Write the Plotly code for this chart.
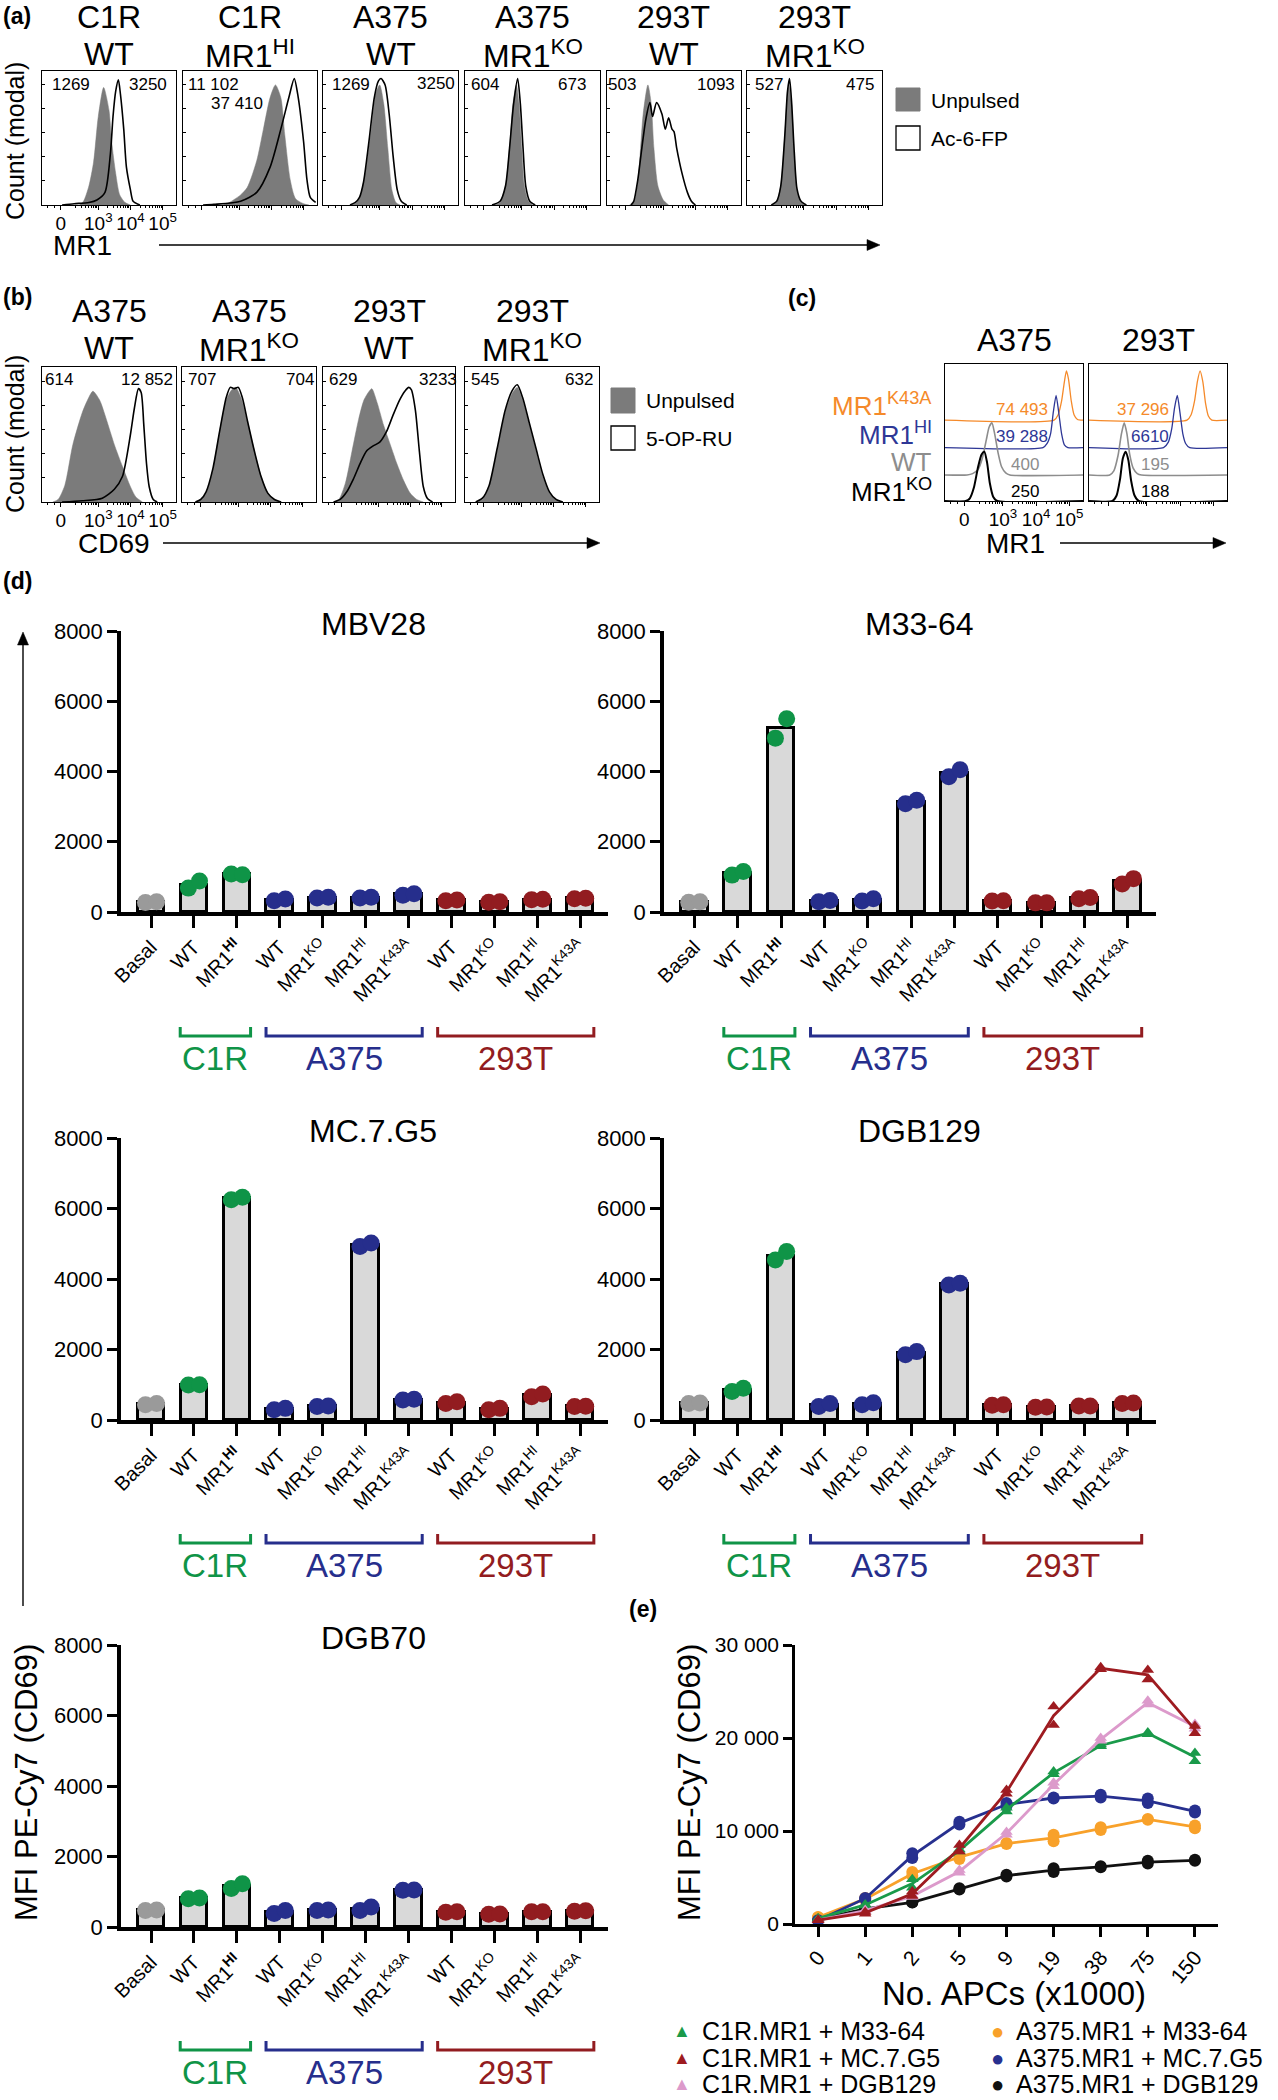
import math
import plotly.graph_objects as go

W, H = 1278, 2100
FONT = "Liberation Sans, Arial, Helvetica, sans-serif"

GRAYFILL = "#7b7b7b"
C_GREEN = "#0f9447"
C_BLUE = "#262e8c"
C_RED = "#921c20"
C_BASAL = "#9a9a9a"
C_ORANGE_C = "#f58a2a"
C_BLUE_C = "#2e3796"
C_GRAY_C = "#8d8d8d"

# ====================== DATA ======================
# ---- panel (a): MR1 staining histograms (x = % of axis width, y = fraction of mode)
a_title1 = ["C1R", "C1R", "A375", "A375", "293T", "293T"]
a_title2 = ["WT", "MR1<sup>HI</sup>", "WT", "MR1<sup>KO</sup>", "WT", "MR1<sup>KO</sup>"]
a_mfi_unpulsed = ["1269", "11 102", "1269", "604", "503", "527"]
a_mfi_pulsed = ["3250", "37 410", "3250", "673", "1093", "475"]

a1_unp_x = [28, 31, 35, 38.5, 42, 46, 50, 52, 55, 58, 62, 66]
a1_unp_y = [0, 0.03, 0.15, 0.34, 0.7, 0.93, 0.75, 0.5, 0.25, 0.08, 0.02, 0]
a1_pul_x = [15, 24, 35, 41, 47, 51, 53, 55, 57, 58.5, 61, 63, 66, 68, 73]
a1_pul_y = [0, 0.01, 0.02, 0.04, 0.1, 0.4, 0.7, 0.9, 0.99, 0.88, 0.6, 0.3, 0.12, 0.03, 0]

a2_unp_x = [30, 33, 43, 48, 55, 60, 65, 69, 73, 76, 80, 84, 90, 94]
a2_unp_y = [0, 0.01, 0.08, 0.14, 0.35, 0.6, 0.85, 0.95, 0.85, 0.55, 0.2, 0.05, 0.01, 0]
a2_pul_x = [15, 23, 43, 55, 65, 73, 79, 83, 86, 90, 92.5, 95, 99]
a2_pul_y = [0, 0.005, 0.03, 0.1, 0.3, 0.6, 0.85, 1.0, 0.85, 0.5, 0.2, 0.06, 0.02]

a3_unp_x = [22, 25, 28, 32, 36, 39, 42, 45, 48, 51, 54, 57]
a3_unp_y = [0, 0.02, 0.08, 0.3, 0.62, 0.88, 0.95, 0.8, 0.45, 0.12, 0.02, 0]
a3_pul_x = [20, 24, 27, 30, 34, 38, 41, 43, 46, 49, 52, 55, 58, 62]
a3_pul_y = [0, 0.02, 0.06, 0.18, 0.5, 0.85, 0.98, 1.0, 0.95, 0.72, 0.38, 0.12, 0.03, 0]

a4_unp_x = [22, 26, 30, 33, 35.5, 38, 40, 42, 44, 47, 50]
a4_unp_y = [0, 0.02, 0.15, 0.45, 0.8, 0.95, 0.8, 0.45, 0.15, 0.03, 0]
a4_pul_x = [20, 26, 30, 33, 36, 39, 41, 43, 45, 48, 52]
a4_pul_y = [0, 0.03, 0.15, 0.45, 0.8, 1.0, 0.8, 0.45, 0.15, 0.03, 0]

a5_unp_x = [17, 21, 24, 27, 30.5, 33, 35, 38, 42, 46]
a5_unp_y = [0, 0.05, 0.3, 0.72, 0.95, 0.8, 0.45, 0.15, 0.04, 0]
a5_pul_x = [18, 20, 23, 26, 29, 32, 34, 37, 41, 43.5, 46, 48.5, 50, 52, 56, 60, 63, 66]
a5_pul_y = [0, 0.03, 0.2, 0.45, 0.68, 0.81, 0.7, 0.81, 0.72, 0.6, 0.69, 0.6, 0.58, 0.45, 0.25, 0.1, 0.03, 0]

a6_unp_x = [19, 22, 25, 28, 30, 31, 33, 35, 37, 40, 43]
a6_unp_y = [0, 0.02, 0.15, 0.55, 0.88, 0.95, 0.8, 0.4, 0.12, 0.02, 0]
a6_pul_x = [18, 22, 25, 28, 30, 31.5, 33, 35, 37, 40, 44]
a6_pul_y = [0, 0.03, 0.15, 0.55, 0.9, 1.0, 0.82, 0.42, 0.13, 0.03, 0]

# ---- panel (b): CD69 on MBV28 T cells
b_title1 = ["A375", "A375", "293T", "293T"]
b_title2 = ["WT", "MR1<sup>KO</sup>", "WT", "MR1<sup>KO</sup>"]
b_mfi_unpulsed = ["614", "707", "629", "545"]
b_mfi_pulsed = ["12 852", "704", "3233", "632"]

b1_unp_x = [8, 12, 17, 23, 30, 34, 38, 43, 48, 54, 60, 66, 70, 75]
b1_unp_y = [0, 0.02, 0.13, 0.45, 0.7, 0.8, 0.87, 0.8, 0.65, 0.45, 0.28, 0.12, 0.04, 0]
b1_pul_x = [15, 30, 45, 54, 60, 66, 69, 72, 74, 76, 78, 80, 83, 86]
b1_pul_y = [0, 0.01, 0.03, 0.1, 0.2, 0.53, 0.74, 0.89, 0.86, 0.6, 0.3, 0.12, 0.02, 0]

b2_unp_x = [10, 14, 18, 23, 28, 33, 37, 40, 44, 49, 54, 59, 64, 69, 74]
b2_unp_y = [0, 0.02, 0.07, 0.25, 0.55, 0.8, 0.88, 0.9, 0.82, 0.62, 0.4, 0.2, 0.07, 0.02, 0]
b2_pul_x = [10, 14, 18, 23, 28, 33, 36, 39, 42, 45, 49, 54, 59, 64, 69, 74]
b2_pul_y = [0, 0.02, 0.08, 0.26, 0.55, 0.82, 0.9, 0.89, 0.9, 0.82, 0.63, 0.4, 0.2, 0.07, 0.02, 0]

b3_unp_x = [8, 12, 17, 22, 27, 31, 35, 37, 41, 46, 51, 56, 61, 66, 71, 76]
b3_unp_y = [0, 0.02, 0.15, 0.4, 0.65, 0.8, 0.87, 0.89, 0.78, 0.6, 0.45, 0.3, 0.17, 0.07, 0.02, 0]
b3_pul_x = [8, 13, 18, 23, 28, 33, 38, 43, 48, 53, 58, 62, 65, 67, 70, 73, 76, 79, 83]
b3_pul_y = [0, 0.02, 0.08, 0.18, 0.3, 0.4, 0.44, 0.47, 0.55, 0.68, 0.8, 0.87, 0.9, 0.88, 0.72, 0.4, 0.12, 0.03, 0]

b4_unp_x = [8, 13, 18, 24, 30, 35, 39, 43, 48, 53, 58, 63, 68, 73]
b4_unp_y = [0, 0.02, 0.12, 0.4, 0.7, 0.85, 0.9, 0.8, 0.6, 0.4, 0.2, 0.07, 0.02, 0]
b4_pul_x = [8, 13, 18, 24, 30, 35, 39, 43, 48, 53, 58, 63, 68, 73]
b4_pul_y = [0, 0.03, 0.13, 0.42, 0.72, 0.87, 0.92, 0.82, 0.62, 0.42, 0.22, 0.08, 0.02, 0]

# ---- panel (c): offset MR1 histograms (height above own baseline)
c_titles = ["A375", "293T"]
c_rows = ["MR1<sup>K43A</sup>", "MR1<sup>HI</sup>", "WT", "MR1<sup>KO</sup>"]
c_baselines = [0.59, 0.39, 0.19, 0.0]
c_a375_mfi = ["74 493", "39 288", "400", "250"]
c_293t_mfi = ["37 296", "6610", "195", "188"]

c1_k43a_x = [0, 79, 82, 84.5, 86.5, 88, 89.5, 91.5, 93.5, 96, 100]
c1_k43a_h = [0, 0, 0.04, 0.14, 0.28, 0.36, 0.3, 0.14, 0.04, 0.005, 0]
c1_hi_x = [0, 71, 74, 76.5, 78.5, 80.5, 82.5, 84.5, 86.5, 89, 100]
c1_hi_h = [0, 0, 0.03, 0.1, 0.26, 0.38, 0.25, 0.1, 0.02, 0, 0]
c1_wt_x = [0, 16, 20, 24, 27, 30, 32, 34, 36, 38.5, 41, 44, 47, 100]
c1_wt_h = [0, 0, 0.01, 0.04, 0.12, 0.26, 0.35, 0.38, 0.3, 0.16, 0.06, 0.015, 0, 0]
c1_ko_x = [0, 15, 18, 21, 24, 26.5, 28.5, 30.5, 32.5, 35, 38, 100]
c1_ko_h = [0, 0, 0.02, 0.1, 0.25, 0.34, 0.36, 0.28, 0.13, 0.03, 0, 0]

c2_k43a_x = [0, 71, 74, 76.5, 78.5, 80.5, 82.5, 84.5, 86.5, 89, 100]
c2_k43a_h = [0, 0, 0.04, 0.14, 0.28, 0.36, 0.28, 0.12, 0.03, 0, 0]
c2_hi_x = [0, 54, 57.5, 60, 62, 64, 66, 68, 70, 73, 100]
c2_hi_h = [0, 0, 0.04, 0.14, 0.29, 0.38, 0.25, 0.1, 0.03, 0, 0]
c2_wt_x = [0, 15, 18, 21, 23.5, 25.5, 27.5, 29.5, 32, 35, 38, 100]
c2_wt_h = [0, 0, 0.03, 0.14, 0.3, 0.38, 0.3, 0.15, 0.05, 0.01, 0, 0]
c2_ko_x = [0, 17, 20, 22.5, 24.5, 26.5, 28.5, 30.5, 33, 36, 100]
c2_ko_h = [0, 0, 0.04, 0.16, 0.31, 0.36, 0.3, 0.15, 0.04, 0, 0]

# ---- panel (d): MFI of CD69 per T-cell clone (two replicates each)
bar_labels = ["Basal", "WT", "MR1<b><sup>HI</sup></b>", "WT", "MR1<sup>KO</sup>", "MR1<sup>HI</sup>",
              "MR1<sup>K43A</sup>", "WT", "MR1<sup>KO</sup>", "MR1<sup>HI</sup>", "MR1<sup>K43A</sup>"]
bar_group = ["basal", "C1R", "C1R", "A375", "A375", "A375", "A375", "293T", "293T", "293T", "293T"]
bar_titles = ["MBV28", "M33-64", "MC.7.G5", "DGB129", "DGB70"]

mbv28_rep1 = [270, 680, 1080, 320, 400, 400, 480, 320, 280, 350, 380]
mbv28_rep2 = [290, 880, 1060, 370, 420, 420, 520, 340, 290, 360, 390]
m3364_rep1 = [280, 1050, 4950, 290, 310, 3080, 3850, 310, 260, 380, 800]
m3364_rep2 = [290, 1150, 5500, 330, 380, 3180, 4050, 320, 260, 410, 950]
mc7g5_rep1 = [430, 990, 6250, 290, 380, 4920, 570, 470, 290, 660, 380]
mc7g5_rep2 = [470, 1000, 6320, 330, 400, 5020, 590, 520, 330, 740, 390]
dgb129_rep1 = [470, 810, 4540, 380, 430, 1850, 3830, 420, 360, 400, 470]
dgb129_rep2 = [480, 900, 4780, 470, 490, 1940, 3880, 430, 370, 400, 480]
dgb70_rep1 = [470, 800, 1090, 380, 470, 470, 1040, 420, 360, 430, 450]
dgb70_rep2 = [480, 820, 1230, 470, 480, 570, 1050, 430, 370, 430, 460]

# ---- panel (e): titration of APCs
apc_labels = ["0", "1", "2", "5", "9", "19", "38", "75", "150"]
c1r_m3364_r1 = [600, 2000, 3900, 7800, 12100, 16100, 19100, 20600, 18400]
c1r_m3364_r2 = [600, 2100, 4800, 8000, 12500, 16400, 19300, 20400, 17500]
c1r_mc7g5_r1 = [400, 1100, 3000, 7800, 14000, 21400, 27400, 26300, 20500]
c1r_mc7g5_r2 = [450, 1300, 3500, 8500, 14400, 23400, 27600, 27300, 21300]
c1r_dgb129_r1 = [400, 1400, 2900, 5500, 9600, 14800, 19700, 23600, 21000]
c1r_dgb129_r2 = [420, 1500, 3100, 5800, 9900, 15200, 20000, 24000, 21500]
a375_m3364_r1 = [700, 2600, 5200, 7000, 8600, 8900, 10100, 11200, 10300]
a375_m3364_r2 = [750, 2800, 5600, 7400, 8700, 9600, 10400, 11300, 10600]
a375_mc7g5_r1 = [350, 2700, 7100, 10700, 12700, 13500, 13600, 13000, 12000]
a375_mc7g5_r2 = [400, 2800, 7600, 11000, 13000, 13600, 13900, 13500, 12200]
a375_dgb129_r1 = [500, 1600, 2300, 3700, 5100, 5600, 6100, 6500, 6800]
a375_dgb129_r2 = [520, 1650, 2350, 3850, 5300, 6000, 6200, 6800, 6900]
e_series_names = ["C1R.MR1 + M33-64", "C1R.MR1 + MC.7.G5", "C1R.MR1 + DGB129",
                  "A375.MR1 + M33-64", "A375.MR1 + MC.7.G5", "A375.MR1 + DGB129"]

# ====================== HELPERS ======================
fig = go.Figure()
annotations = []
shapes = []
layout_axes = {}
counter = [0]


def px(x):
    return x / W


def py(y):
    return 1 - y / H


def add_axes(x0, x1, y_top, y_bot, xa, ya):
    counter[0] += 1
    n = counter[0]
    s = "" if n == 1 else str(n)
    xa = dict(xa)
    ya = dict(ya)
    xa.update(domain=[px(x0), px(x1)], anchor="y" + s, automargin=False)
    ya.update(domain=[py(y_bot), py(y_top)], anchor="x" + s, automargin=False)
    layout_axes["xaxis" + s] = xa
    layout_axes["yaxis" + s] = ya
    return "x" + s, "y" + s


def label(t, x, y, size, color="black", xanchor="center", yanchor="middle", angle=0):
    annotations.append(dict(text=t, x=px(x), y=py(y), xref="paper", yref="paper",
                            showarrow=False, xanchor=xanchor, yanchor=yanchor, textangle=angle,
                            font=dict(size=size, color=color, family=FONT)))


def label_ax(t, xr, yr, x, y, size, color="black", xanchor="center", yanchor="middle"):
    annotations.append(dict(text=t, x=x, y=y, xref=xr, yref=yr, showarrow=False,
                            xanchor=xanchor, yanchor=yanchor,
                            font=dict(size=size, color=color, family=FONT)))


def h_arrow(x_tail, x_head, y, width=1.4):
    shapes.append(dict(type="line", xref="paper", yref="paper", x0=px(x_tail), x1=px(x_head - 6),
                       y0=py(y), y1=py(y), line=dict(color="black", width=width)))
    shapes.append(dict(type="path", xref="paper", yref="paper",
                       path=f"M {px(x_head)},{py(y)} L {px(x_head - 13)},{py(y - 5.5)} "
                            f"L {px(x_head - 13)},{py(y + 5.5)} Z",
                       fillcolor="black", line=dict(color="black", width=0.5)))


def v_arrow(x, y_tail, y_head, width=1.4):
    shapes.append(dict(type="line", xref="paper", yref="paper", x0=px(x), x1=px(x),
                       y0=py(y_tail), y1=py(y_head + 6), line=dict(color="black", width=width)))
    shapes.append(dict(type="path", xref="paper", yref="paper",
                       path=f"M {px(x)},{py(y_head)} L {px(x - 5.5)},{py(y_head + 13)} "
                            f"L {px(x + 5.5)},{py(y_head + 13)} Z",
                       fillcolor="black", line=dict(color="black", width=0.5)))


HIST_MAJOR = [14, 42, 66, 90]
HIST_LABELS = ["0", "10<sup>3</sup>", "10<sup>4</sup>", "10<sup>5</sup>"]
HIST_MINOR = [4, 9] + [d + 24 * math.log10(k) for d in (18, 42, 66) for k in range(2, 10)]


def hist_axes(x0, x1, y_top, y_bot, show_labels, yticks=True):
    xa = dict(range=[0, 100], showline=True, mirror=True, linecolor="black", linewidth=1.3,
              showgrid=False, zeroline=False, ticks="outside", ticklen=4, tickwidth=1,
              tickcolor="black", tickvals=HIST_MAJOR, tickangle=0, ticklabelstandoff=-3,
              ticktext=HIST_LABELS, showticklabels=show_labels,
              tickfont=dict(size=19, family=FONT, color="black"),
              minor=dict(tickvals=HIST_MINOR, ticks="outside", ticklen=2, tickwidth=1, tickcolor="black"),
              fixedrange=True)
    ya = dict(range=[0, 1.06], showline=True, mirror=True, linecolor="black", linewidth=1.3,
              showgrid=False, zeroline=False, showticklabels=False,
              ticks="inside" if yticks else "", ticklen=3, tickwidth=1, tickcolor="black",
              tickvals=[0.19, 0.38, 0.57, 0.76, 0.95], fixedrange=True)
    return add_axes(x0, x1, y_top, y_bot, xa, ya)


def hist_box(xr, yr, unp, pul):
    fig.add_trace(go.Scatter(x=unp[0], y=unp[1], mode="lines", fill="tozeroy",
                             fillcolor=GRAYFILL, line=dict(color=GRAYFILL, width=0.5, shape="spline", smoothing=0.7),
                             xaxis=xr, yaxis=yr, hoverinfo="skip"))
    fig.add_trace(go.Scatter(x=pul[0], y=pul[1], mode="lines",
                             line=dict(color="black", width=1.6, shape="spline", smoothing=0.7),
                             xaxis=xr, yaxis=yr, hoverinfo="skip"))


# ====================== PANEL (a) ======================
a_curves = [((a1_unp_x, a1_unp_y), (a1_pul_x, a1_pul_y)),
            ((a2_unp_x, a2_unp_y), (a2_pul_x, a2_pul_y)),
            ((a3_unp_x, a3_unp_y), (a3_pul_x, a3_pul_y)),
            ((a4_unp_x, a4_unp_y), (a4_pul_x, a4_pul_y)),
            ((a5_unp_x, a5_unp_y), (a5_pul_x, a5_pul_y)),
            ((a6_unp_x, a6_unp_y), (a6_pul_x, a6_pul_y))]
a_boxes = [(42, 176), (183, 317), (323, 458), (465, 600), (607, 741), (747, 882)]
a_unp_lab_x = [22, 2, 21, 15, 11, 16]
a_unp_anchor = ["center", "left", "center", "center", "center", "center"]
a_pul_lab = [(79, 0.90), (40, 0.76), (84, 0.91), (79, 0.90), (81, 0.90), (84, 0.90)]
for i, (bx0, bx1) in enumerate(a_boxes):
    xr, yr = hist_axes(bx0, bx1, 71, 205, i == 0)
    hist_box(xr, yr, *a_curves[i])
    xc = (bx0 + bx1) / 2
    label(a_title1[i], xc, 17, 32)
    label(a_title2[i], xc, 54, 32)
    label_ax(a_mfi_unpulsed[i], xr + " domain", yr + " domain", a_unp_lab_x[i] / 100, 0.90, 17,
             xanchor=a_unp_anchor[i])
    label_ax(a_mfi_pulsed[i], xr + " domain", yr + " domain", a_pul_lab[i][0] / 100, a_pul_lab[i][1], 17)

label("<b>(a)</b>", 1, 16, 23, xanchor="left")
label("Count (modal)", 15, 141, 25, angle=-90)
label("MR1", 82, 246, 28)
h_arrow(159, 880, 245)
# legend (a)
shapes.append(dict(type="rect", xref="paper", yref="paper", x0=px(896), x1=px(920), y0=py(111), y1=py(88),
                   fillcolor=GRAYFILL, line=dict(color=GRAYFILL, width=1)))
shapes.append(dict(type="rect", xref="paper", yref="paper", x0=px(896), x1=px(920), y0=py(150), y1=py(126),
                   fillcolor="white", line=dict(color="black", width=1.3)))
label("Unpulsed", 929, 100, 21, xanchor="left")
label("Ac-6-FP", 929, 138, 21, xanchor="left")

# ====================== PANEL (b) ======================
b_curves = [((b1_unp_x, b1_unp_y), (b1_pul_x, b1_pul_y)),
            ((b2_unp_x, b2_unp_y), (b2_pul_x, b2_pul_y)),
            ((b3_unp_x, b3_unp_y), (b3_pul_x, b3_pul_y)),
            ((b4_unp_x, b4_unp_y), (b4_pul_x, b4_pul_y))]
b_boxes = [(42, 176), (182, 316), (323, 455), (465, 599)]
b_unp_lab_x = [13, 15, 15, 15]
b_pul_lab_x = [78, 88, 87, 85]
for i, (bx0, bx1) in enumerate(b_boxes):
    xr, yr = hist_axes(bx0, bx1, 367, 502, i == 0)
    hist_box(xr, yr, *b_curves[i])
    xc = (bx0 + bx1) / 2
    label(b_title1[i], xc, 311, 32)
    label(b_title2[i], xc, 348, 32)
    label_ax(b_mfi_unpulsed[i], xr + " domain", yr + " domain", b_unp_lab_x[i] / 100, 0.91, 17)
    label_ax(b_mfi_pulsed[i], xr + " domain", yr + " domain", b_pul_lab_x[i] / 100, 0.91, 17)

label("<b>(b)</b>", 1, 297, 23, xanchor="left")
label("Count (modal)", 15, 434, 25, angle=-90)
label("CD69", 114, 543, 28)
h_arrow(163, 600, 543)
shapes.append(dict(type="rect", xref="paper", yref="paper", x0=px(611), x1=px(635), y0=py(413), y1=py(388),
                   fillcolor=GRAYFILL, line=dict(color=GRAYFILL, width=1)))
shapes.append(dict(type="rect", xref="paper", yref="paper", x0=px(611), x1=px(635), y0=py(450), y1=py(426),
                   fillcolor="white", line=dict(color="black", width=1.3)))
label("Unpulsed", 644, 400, 21, xanchor="left")
label("5-OP-RU", 644, 438, 21, xanchor="left")

# ====================== PANEL (c) ======================
c_colors = [C_ORANGE_C, C_BLUE_C, C_GRAY_C, "black"]
c_widths = [1.3, 1.3, 1.6, 2.0]
c_curves = [[(c1_k43a_x, c1_k43a_h), (c1_hi_x, c1_hi_h), (c1_wt_x, c1_wt_h), (c1_ko_x, c1_ko_h)],
            [(c2_k43a_x, c2_k43a_h), (c2_hi_x, c2_hi_h), (c2_wt_x, c2_wt_h), (c2_ko_x, c2_ko_h)]]
c_boxes = [(945, 1083), (1089, 1227)]
c_mfis = [c_a375_mfi, c_293t_mfi]
c_lab_x = [[56, 56, 58, 58], [39, 44, 48, 48]]
c_lab_y = [0.67, 0.47, 0.27, 0.07]
for j, (bx0, bx1) in enumerate(c_boxes):
    xr, yr = hist_axes(bx0, bx1, 364, 501, j == 0, yticks=False)
    layout_axes["yaxis" + xr[1:]]["range"] = [0, 1.0]
    for k in range(4):
        xs, hs = c_curves[j][k]
        base = c_baselines[k]
        fig.add_trace(go.Scatter(x=xs, y=[base + h for h in hs], mode="lines",
                                 line=dict(color=c_colors[k], width=c_widths[k], shape="spline", smoothing=0.6),
                                 xaxis=xr, yaxis=yr, hoverinfo="skip"))
        label_ax(c_mfis[j][k], xr + " domain", yr + " domain", c_lab_x[j][k] / 100, c_lab_y[k], 17,
                 color=c_colors[k])
    label(c_titles[j], (bx0 + bx1) / 2, 340, 32)

c_row_y = [405, 433, 462, 490]
for k in range(4):
    label(c_rows[k], 934, c_row_y[k], 26, color=c_colors[k], xanchor="right")
label("<b>(c)</b>", 786, 298, 23, xanchor="left")
label("MR1", 1015, 543, 28)
h_arrow(1060, 1226, 543)

# ====================== PANEL (d) ======================
grp_color = {"basal": C_BASAL, "C1R": C_GREEN, "A375": C_BLUE, "293T": C_RED}
bar_reps = [(mbv28_rep1, mbv28_rep2), (m3364_rep1, m3364_rep2), (mc7g5_rep1, mc7g5_rep2),
            (dgb129_rep1, dgb129_rep2), (dgb70_rep1, dgb70_rep2)]
col_x = [(121, 608), (664, 1156)]
col_title_x = [373, 920]
row_y = [(631, 912), (1138, 1420), (1645, 1927)]
row_shift = [0, 507, 1014]
brackets = [("C1R", 1, 2, C_GREEN), ("A375", 3, 6, C_BLUE), ("293T", 7, 10, C_RED)]

for p in range(5):
    r, c = divmod(p, 2)
    x0, x1 = col_x[c]
    y_top, y_bot = row_y[r]
    xa = dict(range=[-0.7, 10.65], showline=True, linecolor="black", linewidth=3.5, showgrid=False,
              zeroline=False, ticks="outside", ticklen=12, tickwidth=3, tickcolor="black",
              tickvals=list(range(11)), ticktext=bar_labels, tickangle=-45,
              tickfont=dict(size=20, family=FONT, color="black"), fixedrange=True)
    ya = dict(range=[0, 8000], showline=True, linecolor="black", linewidth=3.5, showgrid=False,
              zeroline=False, ticks="outside", ticklen=10, tickwidth=3, tickcolor="black",
              tickvals=[0, 2000, 4000, 6000, 8000], tickfont=dict(size=22, family=FONT, color="black"),
              fixedrange=True)
    xr, yr = add_axes(x0, x1, y_top, y_bot, xa, ya)
    r1, r2 = bar_reps[p]
    means = [(a + b) / 2 for a, b in zip(r1, r2)]
    cols = [grp_color[g] for g in bar_group]
    fig.add_trace(go.Bar(x=list(range(11)), y=means, width=0.62,
                         marker=dict(color="#d9d9d9", line=dict(color="black", width=3)),
                         xaxis=xr, yaxis=yr, hoverinfo="skip"))
    fig.add_trace(go.Scatter(x=[i - 0.13 for i in range(11)], y=r1, mode="markers",
                             marker=dict(color=cols, size=17, line=dict(width=0)),
                             xaxis=xr, yaxis=yr, hoverinfo="skip", cliponaxis=False))
    fig.add_trace(go.Scatter(x=[i + 0.13 for i in range(11)], y=r2, mode="markers",
                             marker=dict(color=cols, size=17, line=dict(width=0)),
                             xaxis=xr, yaxis=yr, hoverinfo="skip", cliponaxis=False))
    label(bar_titles[p], col_title_x[c], 624 + row_shift[r], 32)
    yl = py(1036 + row_shift[r])
    yt = py(1027 + row_shift[r])
    for name, i0, i1, colr in brackets:
        shapes.append(dict(type="path", xref=xr, yref="paper",
                           path=f"M {i0 - 0.32},{yt} L {i0 - 0.32},{yl} L {i1 + 0.32},{yl} L {i1 + 0.32},{yt}",
                           line=dict(color=colr, width=3)))
        annotations.append(dict(text=name, x=(i0 + i1) / 2, y=py(1058 + row_shift[r]), xref=xr,
                                yref="paper", showarrow=False, xanchor="center", yanchor="middle",
                                font=dict(size=33, color=colr, family=FONT)))

label("<b>(d)</b>", 1, 581, 23, xanchor="left")
v_arrow(23, 1606, 632)
label("MFI PE-Cy7 (CD69)", 26, 1783, 31, angle=-90)

# ====================== PANEL (e) ======================
xa = dict(range=[-0.49, 8.49], showline=True, linecolor="black", linewidth=2.6, showgrid=False,
          zeroline=False, ticks="outside", ticklen=10, tickwidth=2.5, tickcolor="black",
          tickvals=list(range(9)), ticktext=apc_labels, tickangle=-50,
          tickfont=dict(size=21, family=FONT, color="black"), fixedrange=True)
ya = dict(range=[0, 30000], showline=True, linecolor="black", linewidth=2.6, showgrid=False,
          zeroline=False, ticks="outside", ticklen=9, tickwidth=2.5, tickcolor="black",
          tickvals=[0, 10000, 20000, 30000], ticktext=["0", "10 000", "20 000", "30 000"],
          tickfont=dict(size=21, family=FONT, color="black"), fixedrange=True)
xr, yr = add_axes(795, 1218, 1645, 1924, xa, ya)

e_reps = [(c1r_m3364_r1, c1r_m3364_r2), (c1r_mc7g5_r1, c1r_mc7g5_r2), (c1r_dgb129_r1, c1r_dgb129_r2),
          (a375_m3364_r1, a375_m3364_r2), (a375_mc7g5_r1, a375_mc7g5_r2), (a375_dgb129_r1, a375_dgb129_r2)]
e_colors = ["#1a9a4a", "#9e1b20", "#dc9acb", "#f8a12a", "#27308f", "#111111"]
e_symbols = ["triangle-up", "triangle-up", "triangle-up", "circle", "circle", "circle"]
e_order = [5, 3, 4, 0, 2, 1]
for s in e_order:
    r1, r2 = e_reps[s]
    means = [(a + b) / 2 for a, b in zip(r1, r2)]
    xs = list(range(9))
    msize = 11 if e_symbols[s] == "triangle-up" else 12
    fig.add_trace(go.Scatter(x=xs, y=means, mode="lines", line=dict(color=e_colors[s], width=2.8),
                             xaxis=xr, yaxis=yr, hoverinfo="skip"))
    fig.add_trace(go.Scatter(x=xs + xs, y=r1 + r2, mode="markers",
                             marker=dict(color=e_colors[s], size=msize, symbol=e_symbols[s], line=dict(width=0)),
                             xaxis=xr, yaxis=yr, hoverinfo="skip", cliponaxis=False))

label("<b>(e)</b>", 627, 1609, 23, xanchor="left")
label("MFI PE-Cy7 (CD69)", 689, 1783, 31, angle=-90)
label("No. APCs (x1000)", 1014, 1993, 33)

leg_rows = [2031, 2058, 2084]
for s in range(6):
    col = s // 3
    row = s % 3
    mx = 682 if col == 0 else 998
    tx = 700 if col == 0 else 1014
    sym = "▲" if e_symbols[s] == "triangle-up" else "●"
    label(sym, mx, leg_rows[row], 18 if col == 0 else 22, color=e_colors[s])
    label(e_series_names[s], tx, leg_rows[row], 25, xanchor="left")

# ====================== LAYOUT ======================
fig.update_layout(**layout_axes)
fig.update_layout(width=W, height=H, margin=dict(l=0, r=0, t=0, b=0, pad=0, autoexpand=False),
                  showlegend=False, paper_bgcolor="white", plot_bgcolor="white", bargap=0,
                  font=dict(family=FONT, color="black"),
                  annotations=annotations, shapes=shapes)
fig.write_html("out.html", config={"displayModeBar": False},
               post_script="document.body.style.margin='0px';")
